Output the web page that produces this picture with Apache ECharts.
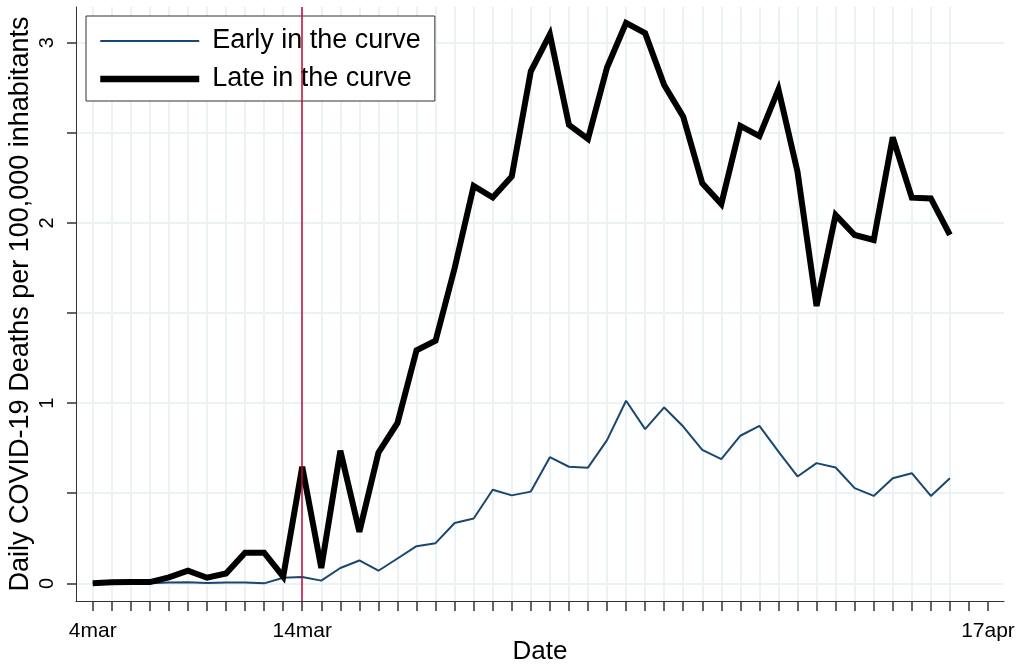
<!DOCTYPE html>
<html><head><meta charset="utf-8">
<script src="https://cdn.jsdelivr.net/npm/echarts@6/dist/echarts.min.js"></script>
<style>html,body{margin:0;padding:0;background:#fff}#c{width:1019px;height:666px}</style>
</head><body><div id="c"></div>
<script>
const dayIndex = [0,1,2,3,4,5,6,7,8,9,10,11,12,13,14,15,16,17,18,19,20,21,22,23,24,25,26,27,28,29,30,31,32,33,34,35,36,37,38,39,40,41,42,43,44,45];
const early = [0,0,0,0,0.004,0.006,0.002,0.004,0.004,0.0,0.031,0.035,0.015,0.085,0.127,0.07,0.138,0.206,0.223,0.335,0.36,0.519,0.488,0.509,0.70,0.647,0.642,0.795,1.013,0.856,0.976,0.870,0.741,0.689,0.819,0.874,0.731,0.593,0.667,0.643,0.528,0.485,0.583,0.611,0.485,0.583];
const late = [0.0,0.006,0.007,0.007,0.033,0.07,0.031,0.055,0.17,0.17,0.037,0.647,0.085,0.736,0.286,0.725,0.89,1.293,1.346,1.749,2.205,2.141,2.258,2.841,3.046,2.544,2.466,2.862,3.11,3.053,2.765,2.589,2.22,2.105,2.538,2.482,2.741,2.284,1.539,2.044,1.933,1.905,2.475,2.14,2.136,1.933];
const tickDays = [0,1,2,3,4,5,6,7,8,9,10,11,12,13,14,15,16,17,18,19,20,21,22,23,24,25,26,27,28,29,30,31,32,33,34,35,36,37,38,39,40,41,42,43,44,45,46,47];
const labelDays = [0, 11, 47];
const labelNames = ['4mar', '14mar', '17apr'];
const yTicks = [0, 0.5, 1, 1.5, 2, 2.5, 3];
const yLabels = [0, 1, 2, 3];
const eventDay = [11];
const seriesNames = ['Early in the curve', 'Late in the curve'];
const yTitle = 'Daily COVID-19 Deaths per 100,000 inhabitants';
const xTitle = 'Date';

const FONT = 'Liberation Sans, Arial, Helvetica, sans-serif';
const chart = echarts.init(document.getElementById('c'), null, {renderer: 'canvas'});
const xMin = -0.877, xMax = 47.84;
chart.setOption({
  animation: false,
  backgroundColor: '#fff',
  grid: {left: 76, right: 15, top: 7, bottom: 65, containLabel: false, outerBoundsMode: 'none'},
  legend: {
    show: true, orient: 'vertical', left: 86, top: 16,
    itemWidth: 99, itemHeight: 14, itemGap: 8,
    padding: [10, 14, 7, 11],
    borderColor: '#333', borderWidth: 1, backgroundColor: '#fff',
    itemStyle: {opacity: 0},
    textStyle: {fontSize: 27, lineHeight: 30, color: '#000', fontFamily: FONT, padding: [0, 0, 0, 8]},
    data: [
      {name: seriesNames[0], lineStyle: {width: 2, color: '#1a476f'}},
      {name: seriesNames[1], lineStyle: {width: 6.5, color: '#000'}}
    ]
  },
  xAxis: [{
    type: 'value', min: xMin, max: xMax, position: 'bottom',
    axisLine: {show: true, onZero: false, lineStyle: {color: '#333', width: 1}},
    axisTick: {show: true, customValues: tickDays, length: 10, lineStyle: {color: '#333', width: 1.5}},
    axisLabel: {show: true, customValues: labelDays, formatter: v => labelNames[labelDays.indexOf(v)] || '',
      margin: 20, fontSize: 21, lineHeight: 21, color: '#000', fontFamily: FONT},
    splitLine: {show: false},
    name: xTitle, nameLocation: 'middle', nameGap: 38, nameMoveOverlap: false,
    nameTextStyle: {fontSize: 26, lineHeight: 26, color: '#000', fontFamily: FONT}
  }, {
    type: 'value', min: xMin, max: xMax, position: 'top',
    axisLine: {show: false}, axisLabel: {show: false},
    axisTick: {show: false, customValues: dayIndex},
    splitLine: {show: true, lineStyle: {color: '#eaf2f3', width: 2}}
  }],
  yAxis: {
    type: 'value', min: -0.098, max: 3.198,
    axisLine: {show: true, onZero: false, lineStyle: {color: '#333', width: 1}},
    axisTick: {show: true, customValues: yTicks, length: 9, lineStyle: {color: '#333', width: 1.5}},
    axisLabel: {show: true, customValues: yLabels, rotate: 90, margin: 19, fontSize: 20, lineHeight: 20,
      color: '#000', fontFamily: FONT, formatter: v => String(v)},
    splitLine: {show: true, lineStyle: {color: '#eaf2f3', width: 2}},
    name: yTitle, nameLocation: 'middle', nameGap: 42, nameRotate: 90, nameMoveOverlap: false,
    nameTextStyle: {fontSize: 27, lineHeight: 27, color: '#000', fontFamily: FONT}
  },
  series: [{
    name: seriesNames[0], type: 'line', xAxisIndex: 0,
    data: dayIndex.map((d, i) => [d, early[i]]),
    symbol: 'none', z: 3,
    lineStyle: {color: '#1a476f', width: 2},
    itemStyle: {color: '#1a476f'},
    markLine: {
      silent: true, symbol: ['none', 'none'], label: {show: false},
      lineStyle: {color: '#c10534', width: 1.5, type: 'solid'},
      data: eventDay.map(d => ({xAxis: d}))
    }
  }, {
    name: seriesNames[1], type: 'line', xAxisIndex: 0,
    data: dayIndex.map((d, i) => [d, late[i]]),
    symbol: 'none', z: 4,
    lineStyle: {color: '#000', width: 6, join: 'miter', miterLimit: 4},
    itemStyle: {color: '#000'}
  }]
});
</script>
</body></html>
